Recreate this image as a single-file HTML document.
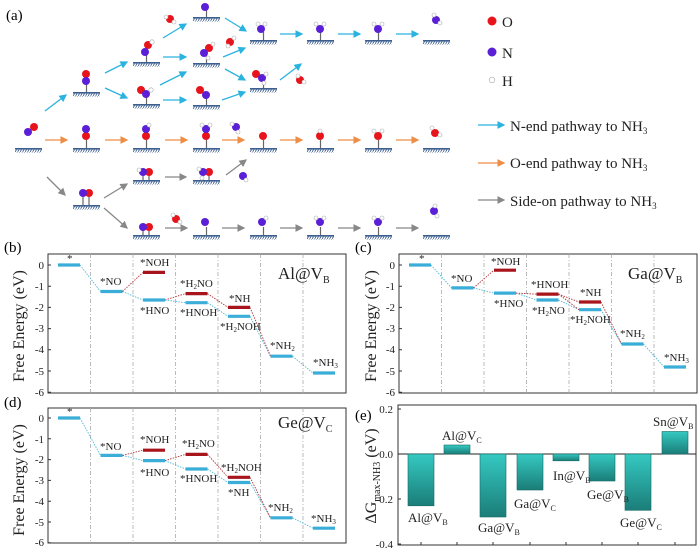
<!DOCTYPE html>
<html><head><meta charset="utf-8"><style>
html,body{margin:0;padding:0;background:#fff}
svg{display:block;font-family:"Liberation Serif",serif}
</style></head><body>
<svg width="700" height="551" viewBox="0 0 700 551" xmlns="http://www.w3.org/2000/svg">
<defs>
<pattern id="hat" width="2.5" height="4" patternUnits="userSpaceOnUse"><line x1="0" y1="4" x2="2.5" y2="0" stroke="#3d5f8f" stroke-width="0.9"/></pattern>
<g id="s"><rect x="0" y="0" width="27" height="1.6" fill="#3d5f8f"/><rect x="0" y="1.6" width="27" height="3" fill="url(#hat)"/></g>
<g id="st"><line x1="13.5" y1="0" x2="13.5" y2="-8" stroke="#666" stroke-width="1.2"/><use href="#s"/></g>
<marker id="mb" markerWidth="6" markerHeight="6" refX="5" refY="3" orient="auto"><path d="M0,0L6,3L0,6z" fill="#2bb3e0"/></marker>
<marker id="mo" markerWidth="6" markerHeight="6" refX="5" refY="3" orient="auto"><path d="M0,0L6,3L0,6z" fill="#ee8d45"/></marker>
<marker id="mg" markerWidth="6" markerHeight="6" refX="5" refY="3" orient="auto"><path d="M0,0L6,3L0,6z" fill="#888"/></marker>
<linearGradient id="bg" x1="0" y1="0" x2="0" y2="1"><stop offset="0" stop-color="#35c9c2"/><stop offset="1" stop-color="#1b7d78"/></linearGradient>
</defs>
<g font-size="15"><text x="6" y="20">(a)</text></g>
<g>
<use href="#s" x="15" y="148"/>
<use href="#st" x="73" y="92"/><use href="#st" x="133" y="62"/><use href="#st" x="133" y="104"/>
<use href="#st" x="193" y="17"/><use href="#st" x="193" y="63"/><use href="#st" x="193" y="105"/>
<use href="#st" x="250" y="40"/><use href="#st" x="250" y="88"/><use href="#st" x="307" y="40"/><use href="#st" x="365" y="40"/><use href="#s" x="423" y="40"/>
<use href="#st" x="73" y="148"/><use href="#st" x="133" y="148"/><use href="#st" x="193" y="148"/><use href="#st" x="250" y="148"/><use href="#st" x="307" y="148"/><use href="#st" x="365" y="148"/><use href="#s" x="423" y="148"/>
<use href="#s" x="73" y="205"/><use href="#s" x="133" y="180"/><use href="#s" x="193" y="180"/>
<use href="#s" x="133" y="235"/><use href="#st" x="193" y="235"/><use href="#st" x="250" y="235"/><use href="#st" x="307" y="235"/><use href="#st" x="365" y="235"/><use href="#s" x="423" y="235"/>
<g stroke="#666" stroke-width="1.2">
<line x1="83" y1="205" x2="83" y2="196"/><line x1="89" y1="205" x2="89" y2="196"/>
<line x1="143" y1="180" x2="143" y2="172"/><line x1="149" y1="180" x2="149" y2="172"/>
<line x1="203" y1="180" x2="203" y2="172"/><line x1="209" y1="180" x2="209" y2="172"/>
<line x1="143" y1="235" x2="143" y2="227"/><line x1="149" y1="235" x2="149" y2="227"/>
</g>
</g>
<g fill="#e8141c">
<circle cx="34" cy="127" r="4"/><circle cx="86" cy="74" r="4"/><circle cx="148" cy="45" r="4"/><circle cx="141" cy="90" r="4"/>
<circle cx="170" cy="19" r="4"/><circle cx="209" cy="48" r="4"/><circle cx="200" cy="90" r="4"/><circle cx="230" cy="42" r="4"/><circle cx="256" cy="74" r="4"/><circle cx="300" cy="80" r="4"/>
<circle cx="86" cy="136" r="4"/><circle cx="146" cy="136" r="4"/><circle cx="206" cy="136" r="4"/><circle cx="263" cy="136" r="4"/><circle cx="320" cy="136" r="4"/><circle cx="378" cy="136" r="4"/><circle cx="435" cy="133" r="4"/>
<circle cx="89" cy="193" r="4"/><circle cx="149" cy="172" r="4"/><circle cx="209" cy="172" r="4"/><circle cx="149" cy="227" r="4"/><circle cx="176" cy="219" r="4"/>
<circle cx="492" cy="21" r="4.5"/>
</g>
<g fill="#5a1fd6">
<circle cx="28" cy="132" r="4"/><circle cx="86" cy="81" r="4"/><circle cx="145" cy="52" r="4"/><circle cx="146" cy="94" r="4"/>
<circle cx="205" cy="7" r="4"/><circle cx="204" cy="53" r="4"/><circle cx="206" cy="95" r="4"/><circle cx="261" cy="29" r="4"/><circle cx="262" cy="78" r="4"/><circle cx="320" cy="29" r="4"/><circle cx="378" cy="29" r="4"/><circle cx="436" cy="20" r="4"/>
<circle cx="86" cy="129" r="4"/><circle cx="146" cy="129" r="4"/><circle cx="206" cy="129" r="4"/><circle cx="236" cy="127" r="4"/>
<circle cx="83" cy="193" r="4"/><circle cx="143" cy="172" r="4"/><circle cx="203" cy="172" r="4"/><circle cx="143" cy="227" r="4"/><circle cx="243" cy="176" r="4"/>
<circle cx="205" cy="222" r="4"/><circle cx="262" cy="222" r="4"/><circle cx="320" cy="222" r="4"/><circle cx="378" cy="222" r="4"/><circle cx="434" cy="211" r="4"/>
<circle cx="492" cy="52" r="4.5"/>
</g>
<g fill="#fff" stroke="#aaa" stroke-width="0.6">
<circle cx="152" cy="42" r="2.2"/><circle cx="151" cy="90" r="2.2"/><circle cx="166" cy="17" r="2"/><circle cx="174" cy="22" r="2"/><circle cx="213" cy="44" r="2"/><circle cx="208" cy="58" r="2"/>
<circle cx="258" cy="24" r="2"/><circle cx="265" cy="24" r="2"/><circle cx="234" cy="38" r="2"/><circle cx="228" cy="46" r="2"/><circle cx="266" cy="74" r="2"/><circle cx="264" cy="83" r="2"/><circle cx="304" cy="82" r="2"/><circle cx="298" cy="76" r="2"/>
<circle cx="316" cy="24" r="2"/><circle cx="324" cy="24" r="2"/><circle cx="374" cy="24" r="2"/><circle cx="382" cy="24" r="2"/><circle cx="440" cy="23" r="2"/><circle cx="434" cy="15" r="2"/>
<circle cx="149" cy="125" r="2"/><circle cx="202" cy="125" r="2"/><circle cx="210" cy="125" r="2"/><circle cx="232" cy="124" r="2"/><circle cx="238" cy="132" r="2"/><circle cx="320" cy="131" r="2"/><circle cx="374" cy="131" r="2"/><circle cx="382" cy="131" r="2"/><circle cx="432" cy="128" r="2"/><circle cx="440" cy="135" r="2"/>
<circle cx="139" cy="170" r="2"/><circle cx="199" cy="169" r="2"/><circle cx="202" cy="178" r="2"/><circle cx="246" cy="180" r="2"/><circle cx="173" cy="215" r="2"/><circle cx="180" cy="222" r="2"/>
<circle cx="266" cy="218" r="2"/><circle cx="316" cy="218" r="2"/><circle cx="324" cy="218" r="2"/><circle cx="374" cy="218" r="2"/><circle cx="382" cy="218" r="2"/><circle cx="435" cy="206" r="2"/><circle cx="437" cy="216" r="2"/>
<circle cx="492" cy="80" r="2.8"/>
</g>
<g stroke="#2bb3e0" stroke-width="1.3" marker-end="url(#mb)">
<line x1="45" y1="111" x2="66" y2="95"/><line x1="105" y1="73" x2="127" y2="62"/><line x1="105" y1="88" x2="127" y2="98"/>
<line x1="163" y1="38" x2="186" y2="24"/><line x1="163" y1="57" x2="186" y2="57"/><line x1="160" y1="85" x2="186" y2="72"/><line x1="163" y1="100" x2="186" y2="100"/>
<line x1="223" y1="57" x2="245" y2="48"/><line x1="225" y1="69" x2="245" y2="80"/><line x1="222" y1="100" x2="245" y2="92"/>
<line x1="225" y1="18" x2="246" y2="31"/><line x1="280" y1="80" x2="301" y2="64"/>
<line x1="280" y1="34" x2="302" y2="34"/><line x1="338" y1="34" x2="360" y2="34"/><line x1="396" y1="34" x2="418" y2="34"/>
<line x1="478" y1="125" x2="504" y2="125"/>
</g>
<g stroke="#ee8d45" stroke-width="1.3" marker-end="url(#mo)">
<line x1="45" y1="140" x2="67" y2="140"/><line x1="105" y1="140" x2="127" y2="140"/><line x1="165" y1="140" x2="187" y2="140"/><line x1="222" y1="140" x2="244" y2="140"/><line x1="280" y1="140" x2="302" y2="140"/><line x1="338" y1="140" x2="360" y2="140"/><line x1="396" y1="140" x2="418" y2="140"/>
<line x1="478" y1="163" x2="504" y2="163"/>
</g>
<g stroke="#888" stroke-width="1.3" marker-end="url(#mg)">
<line x1="47" y1="177" x2="65" y2="195"/><line x1="104" y1="198" x2="127" y2="184"/><line x1="104" y1="208" x2="127" y2="228"/>
<line x1="165" y1="177" x2="186" y2="177"/><line x1="226" y1="175" x2="246" y2="160"/>
<line x1="165" y1="228" x2="187" y2="228"/><line x1="222" y1="228" x2="244" y2="228"/><line x1="280" y1="228" x2="302" y2="228"/><line x1="338" y1="228" x2="360" y2="228"/><line x1="396" y1="228" x2="418" y2="228"/>
<line x1="478" y1="200" x2="504" y2="200"/>
</g>
<g font-size="15" fill="#222">
<text x="502" y="27">O</text><text x="502" y="58">N</text><text x="502" y="86">H</text>
<text x="510" y="131">N-end pathway to NH<tspan font-size="9" dy="3">3</tspan></text>
<text x="510" y="168">O-end pathway to NH<tspan font-size="9" dy="3">3</tspan></text>
<text x="510" y="206">Side-on pathway to NH<tspan font-size="9" dy="3">3</tspan></text>
</g>

<g font-size="15"><text x="4" y="252">(b)</text><text x="355" y="252">(c)</text><text x="4" y="407">(d)</text><text x="355" y="420">(e)</text></g>

<g fill="none" stroke="#333" stroke-width="1">
<rect x="48" y="254" width="298" height="139"/>
<rect x="399" y="254" width="298" height="139"/>
<rect x="48" y="408" width="298" height="135"/>
<rect x="398" y="405" width="298" height="140"/>
</g>
<g stroke="#aaa" stroke-width="0.8" stroke-dasharray="4,2,1,2">
<line x1="90.5" y1="254" x2="90.5" y2="393"/><line x1="133" y1="254" x2="133" y2="393"/><line x1="175.5" y1="254" x2="175.5" y2="393"/><line x1="218" y1="254" x2="218" y2="393"/><line x1="260.5" y1="254" x2="260.5" y2="393"/><line x1="303" y1="254" x2="303" y2="393"/>
<line x1="441.5" y1="254" x2="441.5" y2="393"/><line x1="484" y1="254" x2="484" y2="393"/><line x1="526.5" y1="254" x2="526.5" y2="393"/><line x1="569" y1="254" x2="569" y2="393"/><line x1="611.5" y1="254" x2="611.5" y2="393"/><line x1="654" y1="254" x2="654" y2="393"/>
<line x1="90.5" y1="408" x2="90.5" y2="543"/><line x1="133" y1="408" x2="133" y2="543"/><line x1="175.5" y1="408" x2="175.5" y2="543"/><line x1="218" y1="408" x2="218" y2="543"/><line x1="260.5" y1="408" x2="260.5" y2="543"/><line x1="303" y1="408" x2="303" y2="543"/>
</g>
<g stroke="#333" stroke-width="1">
<path d="M48,265h3M48,286.2h3M48,307.4h3M48,328.6h3M48,349.8h3M48,371h3M48,392.2h3"/>
<path d="M399,265h3M399,286.2h3M399,307.4h3M399,328.6h3M399,349.8h3M399,371h3M399,392.2h3"/>
<path d="M48,418h3M48,438.8h3M48,459.6h3M48,480.4h3M48,501.2h3M48,522h3M48,542.8h3"/>
<path d="M398,409h3M398,454h3M398,499h3M398,544h3"/>
<path d="M421,545v-3M457,545v-3M493,545v-3M530,545v-3M566,545v-3M602,545v-3M638,545v-3M675,545v-3"/>
</g>
<g font-size="11" text-anchor="end" fill="#222">
<text x="44" y="269">0</text><text x="44" y="290">-1</text><text x="44" y="311">-2</text><text x="44" y="332">-3</text><text x="44" y="353">-4</text><text x="44" y="375">-5</text><text x="44" y="396">-6</text>
<text x="395" y="269">0</text><text x="395" y="290">-1</text><text x="395" y="311">-2</text><text x="395" y="332">-3</text><text x="395" y="353">-4</text><text x="395" y="375">-5</text><text x="395" y="396">-6</text>
<text x="44" y="422">0</text><text x="44" y="443">-1</text><text x="44" y="463">-2</text><text x="44" y="484">-3</text><text x="44" y="505">-4</text><text x="44" y="526">-5</text><text x="44" y="546">-6</text>
<text x="393" y="413">0.2</text><text x="393" y="458">0.0</text><text x="393" y="503">-0.2</text><text x="393" y="548">-0.4</text>
</g>
<g font-size="16" text-anchor="middle" fill="#222">
<text transform="translate(24,326) rotate(-90)">Free Energy (eV)</text>
<text transform="translate(376,326) rotate(-90)">Free Energy (eV)</text>
<text transform="translate(24,480) rotate(-90)">Free Energy (eV)</text>
<text transform="translate(376,476) rotate(-90)">ΔG<tspan font-size="10" dy="4">max-NH3</tspan><tspan dy="-4"> (eV)</tspan></text>
</g>

<g fill="none" stroke-width="0.9" stroke-dasharray="1.5,1.2">
<path stroke="#4fb8d8" d="M80,265L100.5,291.5M122.5,291.5L143,300M165,300L185.5,302.7M207.5,302.7L228,316.3M250,316.3L270.5,356.2M292.5,356.2L313,373"/>
<path stroke="#b2323a" d="M122.5,291.5L143,272.4M165,300L185.5,293.6M207.5,293.6L228,307.4M250,307.4L270.5,356.2"/>
<path stroke="#4fb8d8" d="M431,265L451.5,287.9M473.5,287.9L494,293.1M516,293.1L536.5,300M558.5,300L579,309.7M601,309.7L621.5,344M643.5,344L664,367"/>
<path stroke="#b2323a" d="M473.5,287.9L494,270.2M516,293.1L536.5,294.1M558.5,294.1L579,302M558.5,294.1L579,309.7M601,302L621.5,344"/>
<path stroke="#4fb8d8" d="M80,418L100.5,455.4M122.5,455.4L143,460.6M165,460.6L185.5,469M207.5,469L228,482.5M250,482.5L270.5,517.8M292.5,517.8L313,528.2"/>
<path stroke="#b2323a" d="M122.5,455.4L143,450.2M165,460.6L185.5,454.4M207.5,454.4L228,477.3M250,477.3L270.5,517.8"/>
</g>
<g stroke-width="3.2">
<g stroke="#3aaed8">
<path d="M58,265h22M100.5,291.5h22M143,300h22M185.5,302.7h22M228,316.3h22M270.5,356.2h22M313,373h22"/>
<path d="M409,265h22M451.5,287.9h22M494,293.1h22M536.5,300h22M579,309.7h22M621.5,344h22M664,367h22"/>
<path d="M58,418h22M100.5,455.4h22M143,460.6h22M185.5,469h22M228,482.5h22M270.5,517.8h22M313,528.2h22"/>
</g>
<g stroke="#a8141c">
<path d="M143,272.4h22M185.5,293.6h22M228,307.4h22"/>
<path d="M494,270.2h22M536.5,294.1h22M579,302h22"/>
<path d="M143,450.2h22M185.5,454.4h22M228,477.3h22"/>
</g>
</g>
<g font-size="11" fill="#222">
<text x="67" y="262">*</text><text x="100" y="285">*NO</text><text x="140" y="266">*NOH</text><text x="140" y="314">*HNO</text>
<text x="180" y="287">*H<tspan font-size="7" dy="2">2</tspan><tspan dy="-2">NO</tspan></text><text x="180" y="316">*HNOH</text>
<text x="229" y="302">*NH</text><text x="220" y="330">*H<tspan font-size="7" dy="2">2</tspan><tspan dy="-2">NOH</tspan></text>
<text x="270" y="349">*NH<tspan font-size="7" dy="2">2</tspan></text><text x="313" y="366">*NH<tspan font-size="7" dy="2">3</tspan></text>

<text x="419" y="262">*</text><text x="451" y="282">*NO</text><text x="491" y="265">*NOH</text><text x="494" y="307">*HNO</text>
<text x="531" y="288">*HNOH</text><text x="532" y="314">*H<tspan font-size="7" dy="2">2</tspan><tspan dy="-2">NO</tspan></text>
<text x="580" y="296">*NH</text><text x="570" y="323">*H<tspan font-size="7" dy="2">2</tspan><tspan dy="-2">NOH</tspan></text>
<text x="620" y="337">*NH<tspan font-size="7" dy="2">2</tspan></text><text x="664" y="361">*NH<tspan font-size="7" dy="2">3</tspan></text>

<text x="67" y="415">*</text><text x="100" y="450">*NO</text><text x="140" y="443">*NOH</text><text x="140" y="476">*HNO</text>
<text x="182" y="447">*H<tspan font-size="7" dy="2">2</tspan><tspan dy="-2">NO</tspan></text><text x="180" y="482">*HNOH</text>
<text x="221" y="471">*H<tspan font-size="7" dy="2">2</tspan><tspan dy="-2">NOH</tspan></text><text x="228" y="496">*NH</text>
<text x="268" y="511">*NH<tspan font-size="7" dy="2">2</tspan></text><text x="311" y="522">*NH<tspan font-size="7" dy="2">3</tspan></text>
</g>
<g font-size="17" fill="#222">
<text x="278" y="279">Al@V<tspan font-size="10" dy="4">B</tspan></text>
<text x="628" y="279">Ga@V<tspan font-size="10" dy="4">B</tspan></text>
<text x="278" y="428">Ge@V<tspan font-size="10" dy="4">C</tspan></text>
</g>

<line x1="398" y1="454" x2="696" y2="454" stroke="#222" stroke-width="1"/>
<g fill="url(#bg)" stroke="#146b66" stroke-width="0.6">
<rect x="408" y="454" width="26" height="51.8"/>
<rect x="444" y="445" width="26" height="9"/>
<rect x="480" y="454" width="26" height="63"/>
<rect x="517" y="454" width="26" height="36"/>
<rect x="553" y="454" width="26" height="6.8"/>
<rect x="589" y="454" width="26" height="27"/>
<rect x="625" y="454" width="26" height="56.3"/>
<rect x="662" y="431.5" width="26" height="22.5"/>
</g>
<g font-size="13" fill="#222">
<text x="408" y="522">Al@V<tspan font-size="8" dy="3">B</tspan></text>
<text x="442" y="440">Al@V<tspan font-size="8" dy="3">C</tspan></text>
<text x="478" y="532">Ga@V<tspan font-size="8" dy="3">B</tspan></text>
<text x="514" y="508">Ga@V<tspan font-size="8" dy="3">C</tspan></text>
<text x="553" y="480">In@V<tspan font-size="8" dy="3">B</tspan></text>
<text x="587" y="499">Ge@V<tspan font-size="8" dy="3">B</tspan></text>
<text x="620" y="527">Ge@V<tspan font-size="8" dy="3">C</tspan></text>
<text x="653" y="426">Sn@V<tspan font-size="8" dy="3">B</tspan></text>
</g>
</svg>
</body></html>
